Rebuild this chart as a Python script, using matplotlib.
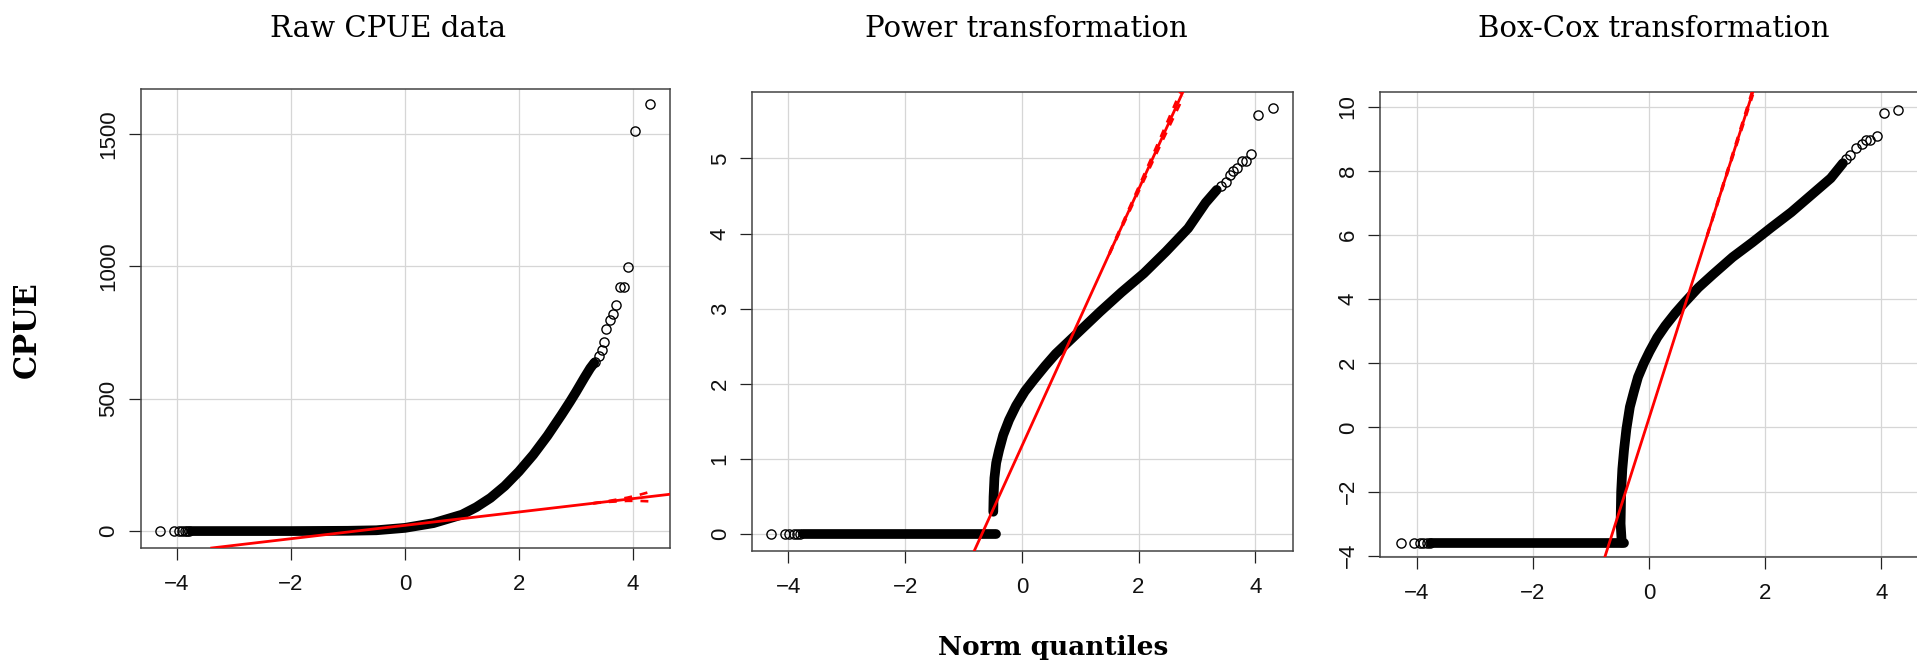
import matplotlib
matplotlib.use("Agg")
import matplotlib.pyplot as plt

# ---------------- data ----------------
# Panel 1: Raw CPUE data
raw_band_x = [-3.75, -2.0, -1.0, -0.5, 0.0, 0.5, 1.0, 1.25, 1.5, 1.75, 2.0, 2.25, 2.5, 2.75, 2.9, 3.0, 3.15, 3.25, 3.32]
raw_band_y = [0, 0, 1, 3, 12, 30, 62, 90, 125, 170, 225, 288, 360, 440, 490, 525, 580, 615, 635]
raw_tail_x = [-4.30, -4.05, -3.97, -3.91, -3.86, -3.82, -3.78,
              3.34, 3.40, 3.46, 3.50, 3.53, 3.59, 3.65, 3.70, 3.77, 3.84, 3.92, 4.04, 4.30]
raw_tail_y = [0, 0, 0, 0, 0, 0, 0,
              640, 660, 684, 716, 765, 797, 821, 854, 921, 921, 999, 1511, 1612]
raw_line = [(-3.35, -63.0), (4.65, 139.0)]
raw_env_x = [3.3, 3.6, 3.9, 4.1, 4.3]
raw_env_d = [0.0, 2.0, 6.0, 11.0, 18.0]

# Panel 2: Power transformation
pow_flat_x = [-3.75, -0.44]
pow_flat_y = [0, 0]
pow_band_x = [-0.49, -0.485, -0.47, -0.44, -0.39, -0.32, -0.22, -0.10, 0.05, 0.20, 0.40, 0.58, 0.96,
              1.34, 1.71, 2.09, 2.47, 2.85, 3.15, 3.34]
pow_band_y = [0.30, 0.50, 0.75, 0.95, 1.12, 1.32, 1.52, 1.71, 1.90, 2.05, 2.24, 2.40, 2.68,
              2.96, 3.22, 3.47, 3.76, 4.07, 4.41, 4.58]
pow_tail_x = [-4.30, -4.06, -3.99, -3.91, -3.86, -3.80,
              3.42, 3.49, 3.56, 3.62, 3.68, 3.77, 3.84, 3.92, 4.04, 4.30]
pow_tail_y = [0, 0, 0, 0, 0, 0,
              4.63, 4.69, 4.78, 4.83, 4.87, 4.96, 4.96, 5.06, 5.58, 5.67]
pow_line = [(-0.82, -0.227), (2.77, 5.90)]
pow_env_x = [1.5, 2.0, 2.4, 2.77]
pow_env_d = [0.01, 0.03, 0.05, 0.08]

# Panel 3: Box-Cox transformation
bc_flat_x = [-3.75, -0.43]
bc_flat_y = [-3.59, -3.59]
bc_band_x = [-0.47, -0.49, -0.48, -0.46, -0.43, -0.39, -0.33, -0.26, -0.19, -0.09, 0.01, 0.14, 0.28,
             0.45, 0.62, 0.85, 1.10, 1.44, 1.78, 2.11, 2.45, 2.79, 3.13, 3.34]
bc_band_y = [-3.59, -3.0, -2.0, -1.3, -0.69, -0.05, 0.64, 1.12, 1.57, 2.00, 2.37, 2.80, 3.17,
             3.56, 3.91, 4.36, 4.77, 5.31, 5.77, 6.24, 6.71, 7.24, 7.77, 8.24]
bc_tail_x = [-4.28, -4.05, -3.95, -3.89, -3.82, -3.78,
             3.40, 3.47, 3.57, 3.67, 3.74, 3.81, 3.93, 4.04, 4.29]
bc_tail_y = [-3.59, -3.59, -3.59, -3.59, -3.59, -3.59,
             8.38, 8.51, 8.71, 8.84, 8.97, 8.97, 9.08, 9.80, 9.91]
bc_line = [(-0.77, -4.09), (1.79, 10.47)]
bc_env_x = [1.0, 1.4, 1.79]
bc_env_d = [0.02, 0.05, 0.09]

titles = ["Raw CPUE data", "Power transformation", "Box-Cox transformation"]
yticks_list = [[0, 500, 1000, 1500], [0, 1, 2, 3, 4, 5], [-4, -2, 0, 2, 4, 6, 8, 10]]
xticks = [-4, -2, 0, 2, 4]
ylabel = "CPUE"
xlabel = "Norm quantiles"

# ---------------- layout ----------------
W, H = 1917, 670
fig = plt.figure(figsize=(W / 100, H / 100), dpi=100)

def add_ax(l, r, t, b):
    return fig.add_axes([l / W, 1 - b / H, (r - l) / W, (b - t) / H])

boxes = [(141, 670, 89, 548), (752.3, 1292.6, 91.7, 551.3), (1380.3, 1919.5, 91.7, 557.3)]
xlims = [(-4.63, 4.65), (-4.62, 4.64), (-4.63, 4.66)]
ylims = [(-64, 1670), (-0.226, 5.886), (-4.05, 10.47)]
title_x = [388, 1026, 1654]

panels = [
    dict(flats=[], band=(raw_band_x, raw_band_y), tail=(raw_tail_x, raw_tail_y),
         line=raw_line, env=(raw_env_x, raw_env_d)),
    dict(flats=[(pow_flat_x, pow_flat_y)], band=(pow_band_x, pow_band_y), tail=(pow_tail_x, pow_tail_y),
         line=pow_line, env=(pow_env_x, pow_env_d)),
    dict(flats=[(bc_flat_x, bc_flat_y)], band=(bc_band_x, bc_band_y), tail=(bc_tail_x, bc_tail_y),
         line=bc_line, env=(bc_env_x, bc_env_d)),
]

BAND_LW = 7.0
for i, p in enumerate(panels):
    ax = add_ax(*boxes[i])
    ax.set_xlim(*xlims[i])
    ax.set_ylim(*ylims[i])
    ax.set_xticks(xticks)
    ax.set_yticks(yticks_list[i])
    ax.grid(True, color="#d6d6d6", lw=0.9)
    ax.set_axisbelow(True)
    for s in ax.spines.values():
        s.set_color("#444444")
        s.set_linewidth(1.1)
    ax.tick_params(axis="both", length=8.6, width=0.9, color="#222222",
                   labelsize=16, labelcolor="#111111")
    ax.tick_params(axis="x", pad=10)
    ax.tick_params(axis="y", pad=7)
    for lab in ax.get_xticklabels() + ax.get_yticklabels():
        lab.set_fontfamily("Liberation Sans")
    for lab in ax.get_yticklabels():
        lab.set_rotation(90)
        lab.set_va("center")

    for fx, fy in p["flats"]:
        ax.plot(fx, fy, color="black", lw=BAND_LW, solid_capstyle="round", zorder=3)
    bx, by = p["band"]
    ax.plot(bx, by, color="black", lw=BAND_LW, solid_capstyle="round",
            solid_joinstyle="round", zorder=3)
    tx, ty = p["tail"]
    ax.plot(tx, ty, "o", mfc="none", mec="black", ms=6.6, mew=1.0, zorder=3)

    (x1, y1), (x2, y2) = p["line"]
    ax.axline((x1, y1), (x2, y2), color="#ff0000", lw=2.0, zorder=4)
    slope = (y2 - y1) / (x2 - x1)
    ex, ed = p["env"]
    ey = [y1 + slope * (x - x1) for x in ex]
    ax.plot(ex, [a + d for a, d in zip(ey, ed)], color="#ff0000", lw=1.9, ls=(0, (3, 3)), zorder=4)
    ax.plot(ex, [a - d for a, d in zip(ey, ed)], color="#ff0000", lw=1.9, ls=(0, (3, 3)), zorder=4)

    fig.text(title_x[i] / W, 1 - 37 / H, titles[i], family="DejaVu Serif",
             fontsize=21, ha="center", va="baseline")

fig.text(27 / W, 1 - 330 / H, ylabel, family="DejaVu Serif", weight="bold",
         fontsize=22, rotation=90, ha="center", va="center")
fig.text(1053 / W, 1 - 655 / H, xlabel, family="DejaVu Serif", weight="bold",
         fontsize=19, ha="center", va="baseline")

fig.savefig("out.png", dpi=100)
